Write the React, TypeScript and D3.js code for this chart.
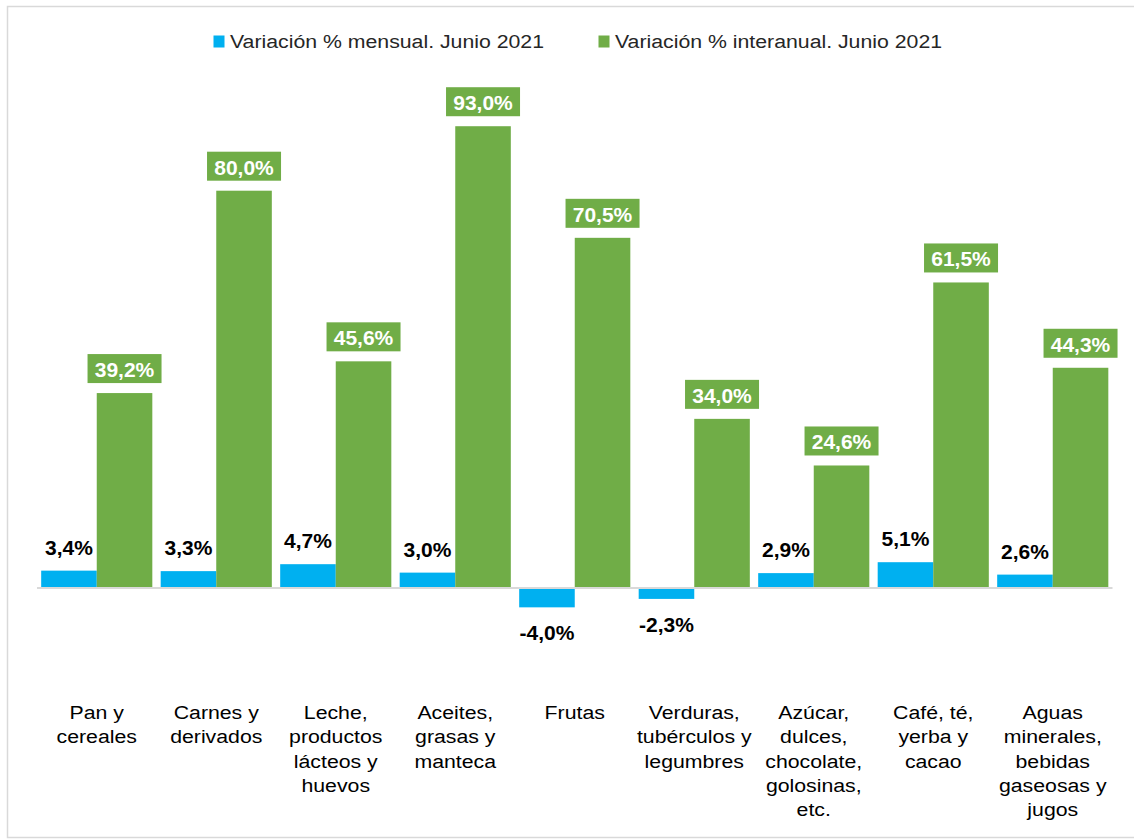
import React from "react";
import * as d3 from "d3";

const categories: string[][] = [
  ["Pan y", "cereales"],
  ["Carnes y", "derivados"],
  ["Leche,", "productos", "lácteos y", "huevos"],
  ["Aceites,", "grasas y", "manteca"],
  ["Frutas"],
  ["Verduras,", "tubérculos y", "legumbres"],
  ["Azúcar,", "dulces,", "chocolate,", "golosinas,", "etc."],
  ["Café, té,", "yerba y", "cacao"],
  ["Aguas", "minerales,", "bebidas", "gaseosas y", "jugos"],
];
const mensual = [3.4, 3.3, 4.7, 3.0, -4.0, -2.3, 2.9, 5.1, 2.6];
const interanual = [39.2, 80.0, 45.6, 93.0, 70.5, 34.0, 24.6, 61.5, 44.3];
const seriesNames = ["Variación % mensual. Junio 2021", "Variación % interanual. Junio 2021"];
const colors = ["#00b0f0", "#70ad47"];

const W = 1134;
const H = 839;
const fmt = (v: number) => d3.format(".1f")(v).replace("−", "-").replace(".", ",") + "%";

export default function App() {
  const idx = categories.map((_, i) => String(i));
  const x0 = d3.scaleBand<string>().domain(idx).range([37, 1112.5]).paddingInner(0.07).paddingOuter(0.035);
  const x1 = d3.scaleBand<string>().domain(["m", "i"]).range([0, x0.bandwidth()]);
  const y = d3.scaleLinear().domain([-10, 100]).range([587.5 + 49.6, 587.5 - 496]);
  const y0 = y(0);
  const font = "Arial, 'Liberation Sans', Helvetica, sans-serif";
  const sx = 1.12;

  return (
    <svg width={W} height={H} style={{ position: "absolute", left: 0, top: 0, background: "#fff" }} fontFamily={font}>
      <rect x={7.5} y={6.5} width={W + 10} height={831} fill="#fff" stroke="#d9d9d9" strokeWidth={1.5} />
      {/* legend */}
      <g>
        <rect x={213.5} y={35.5} width={11} height={12} fill={colors[0]} />
        <text transform={`translate(230,48) scale(${sx},1)`} fontSize={19} fill="#262626">{seriesNames[0]}</text>
        <rect x={598.5} y={35.5} width={11} height={12} fill={colors[1]} />
        <text transform={`translate(615,48) scale(${sx},1)`} fontSize={19} fill="#262626">{seriesNames[1]}</text>
      </g>
      {/* bars */}
      {idx.map((k, i) => {
        const bx = x0(k)!;
        const mv = mensual[i];
        const iv = interanual[i];
        const mx = bx + x1("m")!;
        const ix = bx + x1("i")!;
        const bw = x1.bandwidth();
        const iTop = y(iv);
        return (
          <g key={k}>
            <rect x={mx} y={Math.min(y(mv), y0)} width={bw} height={Math.abs(y(mv) - y0)} fill={colors[0]} />
            <rect x={ix} y={iTop} width={bw} height={y0 - iTop} fill={colors[1]} />
            <text
              x={mx + bw / 2}
              y={mv >= 0 ? y(mv) - 16 : y(mv) + 33}
              textAnchor="middle"
              fontSize={21}
              fontWeight="bold"
              fill="#000"
            >
              {fmt(mv)}
            </text>
            <rect x={ix + bw / 2 - 37} y={iTop - 39} width={74} height={29} fill={colors[1]} />
            <text x={ix + bw / 2} y={iTop - 16} textAnchor="middle" fontSize={21} fontWeight="bold" fill="#fff">
              {fmt(iv)}
            </text>
          </g>
        );
      })}
      <line x1={37} x2={1112.5} y1={y0 + 0.5} y2={y0 + 0.5} stroke="#d9d9d9" strokeWidth={2} />
      {/* category labels */}
      {idx.map((k, i) => (
        <text
          key={"c" + k}
          transform={`translate(${x0(k)! + x0.bandwidth() / 2},0) scale(${sx},1)`}
          textAnchor="middle"
          fontSize={19}
          fill="#000"
        >
          {categories[i].map((line, j) => (
            <tspan key={j} x={0} y={719 + j * 24.3}>
              {line}
            </tspan>
          ))}
        </text>
      ))}
    </svg>
  );
}
